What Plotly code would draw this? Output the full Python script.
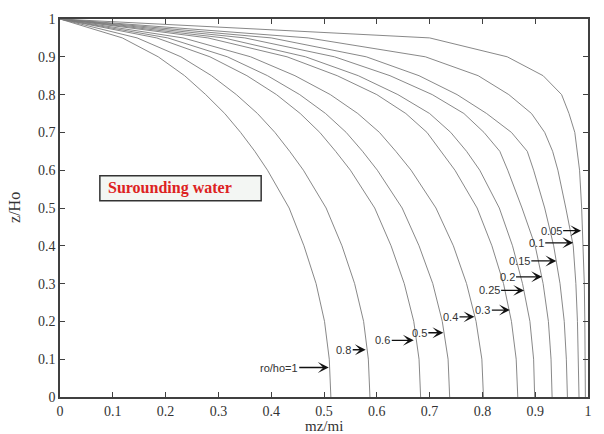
import plotly.graph_objects as go

# z/Ho nodes shared by all curves
z_nodes = [0, 0.1, 0.2, 0.3, 0.4, 0.5, 0.6, 0.65, 0.7, 0.75, 0.8, 0.85, 0.9, 0.95, 1.0]

# mz/mi values of each curve at the z nodes
curve_labels = ["1", "0.8", "0.6", "0.5", "0.4", "0.3", "0.25", "0.2", "0.15", "0.1", "0.05"]
mz_ro_1    = [0.513, 0.510, 0.501, 0.485, 0.462, 0.434, 0.393, 0.369, 0.342, 0.312, 0.276, 0.236, 0.186, 0.118, 0]
mz_ro_0_8  = [0.587, 0.584, 0.575, 0.558, 0.534, 0.504, 0.461, 0.435, 0.407, 0.374, 0.334, 0.287, 0.229, 0.146, 0]
mz_ro_0_6  = [0.683, 0.680, 0.670, 0.652, 0.627, 0.596, 0.550, 0.522, 0.492, 0.455, 0.410, 0.354, 0.284, 0.183, 0]
mz_ro_0_5  = [0.738, 0.735, 0.724, 0.706, 0.680, 0.648, 0.601, 0.573, 0.542, 0.503, 0.454, 0.393, 0.317, 0.204, 0]
mz_ro_0_4  = [0.802, 0.799, 0.788, 0.770, 0.745, 0.712, 0.665, 0.636, 0.605, 0.564, 0.512, 0.445, 0.361, 0.233, 0]
mz_ro_0_3  = [0.867, 0.864, 0.855, 0.840, 0.818, 0.790, 0.748, 0.722, 0.695, 0.655, 0.600, 0.525, 0.430, 0.280, 0]
mz_ro_0_25 = [0.899, 0.897, 0.890, 0.876, 0.857, 0.832, 0.795, 0.770, 0.740, 0.700, 0.640, 0.565, 0.465, 0.310, 0]
mz_ro_0_2  = [0.932, 0.930, 0.925, 0.915, 0.900, 0.875, 0.848, 0.833, 0.803, 0.765, 0.705, 0.625, 0.520, 0.350, 0]
mz_ro_0_15 = [0.961, 0.959, 0.955, 0.947, 0.935, 0.918, 0.897, 0.885, 0.855, 0.808, 0.752, 0.680, 0.580, 0.400, 0]
mz_ro_0_1  = [0.983, 0.982, 0.980, 0.977, 0.972, 0.958, 0.943, 0.933, 0.918, 0.893, 0.850, 0.792, 0.692, 0.470, 0]
mz_ro_0_05 = [0.995, 0.995, 0.994, 0.993, 0.991, 0.988, 0.984, 0.980, 0.975, 0.964, 0.950, 0.915, 0.847, 0.700, 0]
curves = [mz_ro_1, mz_ro_0_8, mz_ro_0_6, mz_ro_0_5, mz_ro_0_4, mz_ro_0_3,
          mz_ro_0_25, mz_ro_0_2, mz_ro_0_15, mz_ro_0_1, mz_ro_0_05]

# arrow labels: text, tip position (data) and text offset (pixels)
arrow_text = ["ro/ho=1", "0.8", "0.6", "0.5", "0.4", "0.3", "0.25", "0.2", "0.15", "0.1", "0.05"]
arrow_x = [0.509, 0.579, 0.670, 0.726, 0.785, 0.852, 0.879, 0.913, 0.940, 0.972, 0.987]
arrow_y = [0.078, 0.125, 0.150, 0.170, 0.212, 0.230, 0.282, 0.318, 0.360, 0.408, 0.440]
arrow_dx = [-50, -22, -31, -24, -24, -27, -35, -35, -37, -37, -30]

tick_vals = [0, 0.1, 0.2, 0.3, 0.4, 0.5, 0.6, 0.7, 0.8, 0.9, 1]
tick_text = ["0", "0.1", "0.2", "0.3", "0.4", "0.5", "0.6", "0.7", "0.8", "0.9", "1"]

fig = go.Figure()
for lab, xs in zip(curve_labels, curves):
    fig.add_trace(go.Scatter(x=xs, y=z_nodes, mode="lines", name=lab,
                             line=dict(color="#7a7a7a", width=0.9), showlegend=False,
                             hoverinfo="skip"))

axis_common = dict(range=[0, 1], tickvals=tick_vals, ticktext=tick_text,
                   ticks="inside", ticklen=5, tickwidth=1, tickcolor="#404040",
                   showline=True, linecolor="#404040", linewidth=1.5, mirror="ticks",
                   showgrid=False, zeroline=False,
                   tickfont=dict(family="Liberation Serif", size=14, color="#333333"))
fig.update_xaxes(**axis_common)
fig.update_yaxes(**axis_common)

annotations = []
for t, x, y, dx in zip(arrow_text, arrow_x, arrow_y, arrow_dx):
    annotations.append(dict(x=x, y=y, xref="x", yref="y", text=t, showarrow=True,
                            ax=dx, ay=0, arrowhead=3, arrowsize=1.4, arrowwidth=1.3,
                            arrowcolor="#111111", standoff=0,
                            font=dict(family="Liberation Sans", size=11, color="#333333")))
annotations.append(dict(x=0.087, y=0.552, xref="x", yref="y", xanchor="left", yanchor="middle",
                        text="<b>Surounding water</b>", showarrow=False,
                        font=dict(family="Liberation Serif", size=16, color="#dd2222")))
annotations.append(dict(x=0.5, y=-0.05, xref="paper", yref="paper", text="mz/mi",
                        showarrow=False, yanchor="top",
                        font=dict(family="Liberation Serif", size=15, color="#333333")))
annotations.append(dict(x=-0.0865, y=0.501, xref="paper", yref="paper", text="z/Ho",
                        showarrow=False, textangle=-90, xanchor="center", yanchor="middle",
                        font=dict(family="Liberation Serif", size=16, color="#333333")))

fig.update_layout(
    width=604, height=434,
    margin=dict(l=60, r=12, t=14, b=37),
    paper_bgcolor="white", plot_bgcolor="white",
    annotations=annotations,
    shapes=[dict(type="rect", xref="x", yref="y", x0=0.0755, x1=0.381, y0=0.519, y1=0.585,
                 line=dict(color="#333333", width=1.5), fillcolor="#f3f6f3", layer="above")],
)
fig.write_html("out.html", config={"displayModeBar": False},
               post_script="document.body.style.margin='0px';")
